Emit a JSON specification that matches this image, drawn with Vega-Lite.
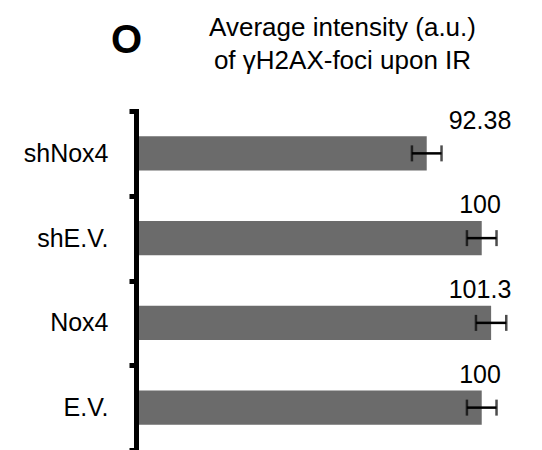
{
  "$schema": "https://vega.github.io/schema/vega-lite/v6.json",
  "width": 406,
  "height": 339,
  "autosize": {"type": "none"},
  "padding": {"left": 136, "top": 111, "right": 0, "bottom": 0},
  "background": "white",
  "config": {"view": {"stroke": null}, "font": "Liberation Sans", "style": {"guide-title": {"lineBreak": "|"}}},
  "data": {"values": [
    {"cond": "shNox4", "value": 92.38, "sem": 2.05, "label": "92.38"},
    {"cond": "shE.V.", "value": 100, "sem": 2.05, "label": "100"},
    {"cond": "Nox4", "value": 101.3, "sem": 2.1, "label": "101.3"},
    {"cond": "E.V.", "value": 100, "sem": 2.05, "label": "100"}
  ]},
  "encoding": {
    "y": {
      "field": "cond", "type": "nominal", "sort": null,
      "scale": {"paddingInner": 0, "paddingOuter": 0},
      "axis": {
        "title": "O", "titleAngle": 0, "titleX": -10, "titleY": -59,
        "titleAlign": "center", "titleBaseline": "alphabetic",
        "titleFontSize": 40, "titleFontWeight": "bold", "titleColor": "black",
        "labelFontSize": 25, "labelColor": "black", "labelPadding": 21,
        "tickBand": "extent", "tickSize": 7, "tickWidth": 5, "tickColor": "black",
        "domainColor": "black", "domainWidth": 5, "domainCap": "square",
        "grid": false, "zindex": 1
      }
    }
  },
  "layer": [
    {
      "mark": {"type": "bar", "height": {"band": 0.405}, "color": "#6b6b6b"},
      "encoding": {
        "x": {
          "field": "value", "type": "quantitative",
          "title": "Average intensity (a.u.)|of γH2AX-foci upon IR",
          "scale": {"domain": [52.1, 108.35], "zero": false, "nice": false},
          "axis": {
            "orient": "top", "labels": false, "ticks": false, "domain": false, "grid": false,
            "titleFontSize": 26, "titleFontWeight": "normal", "titleColor": "black",
            "titleX": 206, "titleY": -76, "titleAlign": "center", "titleBaseline": "alphabetic",
            "titleLineHeight": 33
          }
        },
        "x2": {"datum": 52.1}
      }
    },
    {
      "mark": {"type": "errorbar", "ticks": {"size": 16, "thickness": 2.5, "color": "black"}, "thickness": 2.5, "color": "black"},
      "encoding": {
        "x": {"field": "value", "type": "quantitative", "title": "Average intensity (a.u.)|of γH2AX-foci upon IR"},
        "xError": {"field": "sem"}
      }
    },
    {
      "mark": {"type": "text", "fontSize": 25, "dy": -24.75, "baseline": "alphabetic", "align": "center", "color": "black"},
      "encoding": {
        "x": {"datum": 99.76, "type": "quantitative"},
        "text": {"field": "label"}
      }
    }
  ]
}
